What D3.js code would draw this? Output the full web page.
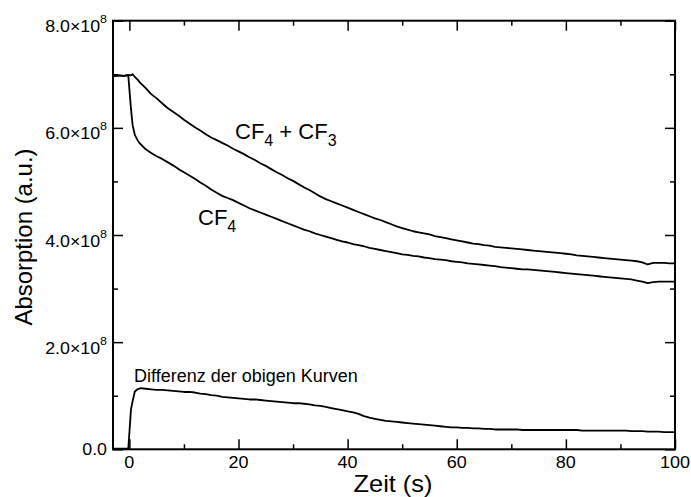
<!DOCTYPE html>
<html>
<head>
<meta charset="utf-8">
<script src="https://cdn.jsdelivr.net/npm/d3@7"></script>
<style>
  body { margin: 0; background: #fff; }
  svg { font-family: "Liberation Sans", Arial, sans-serif; }
</style>
</head>
<body>
<svg id="chart" width="691" height="497"></svg>
<script>
// sample times (s)
const time = [-3, -2, -1, -0.2, 0.3, 0.6, 1, 1.5, 2,
  3, 4, 5, 6, 7, 8, 9, 10, 11, 12, 13, 14, 15, 16, 17, 18, 19, 20, 21, 22,
  23, 24, 25, 26, 27, 28, 29, 30, 31, 32, 33, 34, 35, 36, 37, 38, 39, 40, 41, 42,
  43, 44, 45, 46, 47, 48, 49, 50, 51, 52, 53, 54, 55, 56, 57, 58, 59, 60, 61, 62,
  63, 64, 65, 66, 67, 68, 69, 70, 71, 72, 73, 74, 75, 76, 77, 78, 79, 80, 81, 82,
  83, 84, 85, 86, 87, 88, 89, 90, 91, 92, 93, 94, 95, 96, 97, 98, 99, 100];

// absorption values in units of 1e8
const cf4cf3 = [6.96, 6.98, 6.97, 6.99, 6.98, 7.00, 6.95, 6.90, 6.84,
  6.74, 6.63, 6.55, 6.46, 6.37, 6.30, 6.23, 6.15, 6.08, 6.01, 5.95, 5.88, 5.82, 5.77, 5.72, 5.67, 5.61, 5.56, 5.51, 5.45,
  5.40, 5.34, 5.29, 5.23, 5.17, 5.12, 5.06, 5.01, 4.95, 4.89, 4.84, 4.78, 4.72, 4.67, 4.63, 4.59, 4.55, 4.51, 4.47, 4.43,
  4.39, 4.35, 4.31, 4.28, 4.24, 4.20, 4.16, 4.13, 4.10, 4.07, 4.05, 4.03, 4.01, 3.98, 3.96, 3.94, 3.92, 3.90, 3.88, 3.86,
  3.84, 3.83, 3.81, 3.80, 3.78, 3.77, 3.76, 3.75, 3.74, 3.73, 3.72, 3.71, 3.70, 3.69, 3.68, 3.67, 3.66, 3.65, 3.64, 3.62,
  3.61, 3.60, 3.59, 3.58, 3.57, 3.56, 3.55, 3.54, 3.53, 3.52, 3.51, 3.49, 3.45, 3.48, 3.48, 3.48, 3.47, 3.47];

const cf4 = [6.96, 6.98, 6.97, 6.98, 6.35, 6.05, 5.87, 5.77, 5.70,
  5.60, 5.53, 5.47, 5.42, 5.36, 5.30, 5.23, 5.17, 5.11, 5.05, 4.98, 4.92, 4.85, 4.79, 4.73, 4.69, 4.65, 4.60, 4.55, 4.50,
  4.46, 4.42, 4.38, 4.34, 4.30, 4.26, 4.22, 4.18, 4.14, 4.10, 4.07, 4.03, 4.00, 3.97, 3.94, 3.91, 3.88, 3.86, 3.83, 3.81,
  3.79, 3.76, 3.74, 3.72, 3.70, 3.68, 3.66, 3.64, 3.63, 3.61, 3.60, 3.58, 3.57, 3.55, 3.54, 3.53, 3.51, 3.50, 3.49, 3.47,
  3.46, 3.45, 3.44, 3.43, 3.42, 3.40, 3.39, 3.38, 3.37, 3.36, 3.36, 3.35, 3.34, 3.33, 3.32, 3.31, 3.30, 3.29, 3.28, 3.27,
  3.26, 3.25, 3.24, 3.23, 3.22, 3.21, 3.20, 3.19, 3.18, 3.17, 3.15, 3.13, 3.10, 3.12, 3.13, 3.13, 3.13, 3.13];

const differenz = [0.01, 0.01, 0.01, 0.01, 0.75, 0.90, 1.08, 1.12, 1.14,
  1.13, 1.12, 1.11, 1.11, 1.10, 1.09, 1.08, 1.07, 1.07, 1.06, 1.04, 1.03, 1.01, 1.00, 0.98, 0.97, 0.96, 0.95, 0.94, 0.93,
  0.93, 0.92, 0.91, 0.90, 0.89, 0.88, 0.87, 0.86, 0.86, 0.85, 0.84, 0.82, 0.81, 0.79, 0.77, 0.75, 0.73, 0.71, 0.69, 0.66,
  0.62, 0.59, 0.57, 0.55, 0.53, 0.52, 0.51, 0.50, 0.49, 0.48, 0.47, 0.46, 0.45, 0.44, 0.43, 0.42, 0.41, 0.41, 0.40, 0.40,
  0.39, 0.39, 0.38, 0.38, 0.37, 0.37, 0.37, 0.37, 0.37, 0.36, 0.36, 0.36, 0.36, 0.36, 0.36, 0.36, 0.36, 0.36, 0.36, 0.36,
  0.35, 0.35, 0.35, 0.35, 0.35, 0.35, 0.35, 0.35, 0.35, 0.34, 0.34, 0.34, 0.33, 0.33, 0.33, 0.32, 0.32, 0.32];

const xMajor = [0, 20, 40, 60, 80, 100];
const xMinor = [10, 30, 50, 70, 90];
const yMajor = [0, 2, 4, 6, 8];
const yMinor = [1, 3, 5, 7];

const svg = d3.select("#chart");
const m = { left: 113, right: 675, top: 20.7, bottom: 449.3 };

const x = d3.scaleLinear().domain([-3, 100]).range([m.left, m.right]);
const y = d3.scaleLinear().domain([0, 8]).range([m.bottom, m.top]);

// ticks, all pointing inward
function ticks(axis, pos, values, size) {
  const g = svg.append("g")
    .attr("transform", pos)
    .call(axis.tickValues(values).tickSize(-size).tickFormat(""));
  g.select(".domain").remove();
  g.selectAll("line").attr("stroke", "#000").attr("stroke-width", 1.5);
}
ticks(d3.axisBottom(x), "translate(0," + m.bottom + ")", xMajor, 10);
ticks(d3.axisBottom(x), "translate(0," + m.bottom + ")", xMinor, 5);
ticks(d3.axisTop(x), "translate(0," + m.top + ")", xMajor, 10);
ticks(d3.axisTop(x), "translate(0," + m.top + ")", xMinor, 5);
ticks(d3.axisLeft(y), "translate(" + m.left + ",0)", yMajor, 10);
ticks(d3.axisLeft(y), "translate(" + m.left + ",0)", yMinor, 5);
ticks(d3.axisRight(y), "translate(" + m.right + ",0)", yMajor, 10);
ticks(d3.axisRight(y), "translate(" + m.right + ",0)", yMinor, 5);

// curves
const line = d3.line()
  .x((d, i) => x(time[i]))
  .y(d => y(d));

[cf4cf3, cf4, differenz].forEach(s => {
  svg.append("path")
    .attr("d", line(s))
    .attr("fill", "none")
    .attr("stroke", "#000")
    .attr("stroke-width", 1.8)
    .attr("stroke-linejoin", "round");
});

// frame
svg.append("rect")
  .attr("x", m.left).attr("y", m.top)
  .attr("width", m.right - m.left).attr("height", m.bottom - m.top)
  .attr("fill", "none").attr("stroke", "#000").attr("stroke-width", 2);

// text helper: the original font runs a little wider than Arial
function label(tx, ty, anchor, size, sx, rot) {
  return svg.append("g")
    .attr("transform", "translate(" + tx + "," + ty + ")" + (rot ? " rotate(" + rot + ")" : "") + " scale(" + sx + ",1)")
    .append("text")
    .attr("text-anchor", anchor)
    .attr("font-size", size);
}

// x tick labels
xMajor.forEach(v => {
  label(x(v), m.bottom + 19, "middle", 17, 1.06).text(v);
});

// y tick labels with x10^8
yMajor.forEach(v => {
  const t = label(m.left - 6, y(v) + (v === 0 ? 6 : 11.5), "end", 16.5, 1.08);
  if (v === 0) {
    t.text("0.0");
  } else {
    t.append("tspan").text(v.toFixed(1) + "\u00d710");
    t.append("tspan").attr("font-size", 11.5).attr("dy", -9).text("8");
  }
});

// axis titles
label(393, 492, "middle", 23.5, 1.08).text("Zeit (s)");
label(32, 237, "middle", 23.5, 1.02, -90).text("Absorption (a.u.)");

// curve labels
const lab1 = label(235, 139, "start", 22, 1);
lab1.append("tspan").text("CF");
lab1.append("tspan").attr("font-size", 16).attr("dy", 7).text("4");
lab1.append("tspan").attr("dy", -7).text(" + CF");
lab1.append("tspan").attr("font-size", 16).attr("dy", 7).text("3");

const lab2 = label(198, 225, "start", 22, 1);
lab2.append("tspan").text("CF");
lab2.append("tspan").attr("font-size", 16).attr("dy", 7).text("4");

label(134, 382, "start", 18, 1).text("Differenz der obigen Kurven");
</script>
</body>
</html>
